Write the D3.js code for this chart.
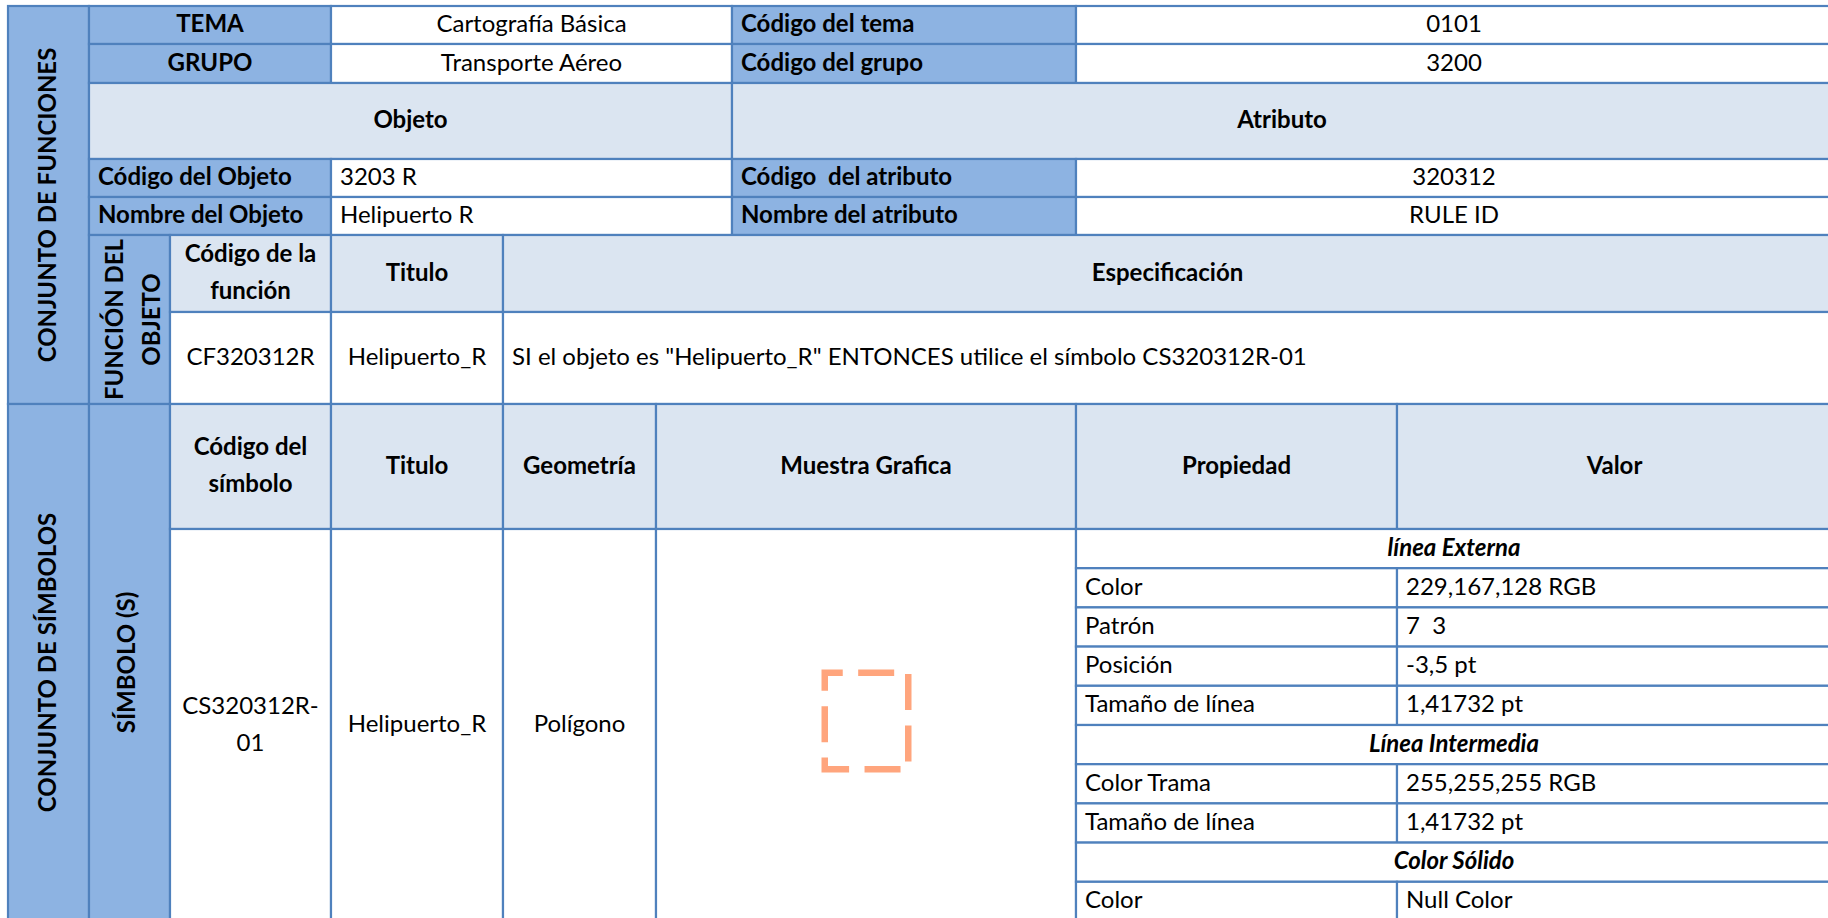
<!DOCTYPE html>
<html>
<head>
<meta charset="utf-8">
<script src="https://cdn.jsdelivr.net/npm/d3@7"></script>
<style>
html,body{margin:0;padding:0;background:#fff;}
svg{display:block;}
text{font-family:Lato,"Noto Sans",sans-serif;fill:#000;white-space:pre;}
</style>
</head>
<body>
<svg id="chart" width="1828" height="918"></svg>
<script>
// ---------------- data ----------------
const sectionTitles = ["CONJUNTO DE FUNCIONES", "CONJUNTO DE SÍMBOLOS"];
const headerLabels = ["TEMA", "GRUPO"];
const headerValues = ["Cartografía Básica", "Transporte Aéreo"];
const codeLabels = ["Código del tema", "Código del grupo"];
const codeValues = ["0101", "3200"];
const blockTitles = ["Objeto", "Atributo"];
const objectLabels = ["Código del Objeto", "Nombre del Objeto"];
const objectValues = ["3203 R", "Helipuerto R"];
const attrLabels = ["Código  del atributo", "Nombre del atributo"];
const attrValues = ["320312", "RULE ID"];
const functionSide = ["FUNCIÓN DEL", "OBJETO"];
const functionHeaders = [["Código de la", "función"], ["Titulo"], ["Especificación"]];
const functionRow = ["CF320312R", "Helipuerto_R", "SI el objeto es \"Helipuerto_R\" ENTONCES utilice el símbolo CS320312R-01"];
const symbolSide = ["SÍMBOLO (S)"];
const symbolHeaders = [["Código del", "símbolo"], ["Titulo"], ["Geometría"], ["Muestra Grafica"], ["Propiedad"], ["Valor"]];
const symbolRow = [["CS320312R-", "01"], ["Helipuerto_R"], ["Polígono"]];
const propGroups = ["línea Externa", "Línea Intermedia", "Color Sólido"];
const propNames = [
  ["Color", "Patrón", "Posición", "Tamaño de línea"],
  ["Color Trama", "Tamaño de línea"],
  ["Color"]
];
const propValues = [
  ["229,167,128 RGB", "7  3", "-3,5 pt", "1,41732 pt"],
  ["255,255,255 RGB", "1,41732 pt"],
  ["Null Color"]
];
const dashPattern = [7, 3];

// ---------------- layout / style ----------------
const DARK = "#8DB3E2", LIGHT = "#DBE5F1", WHITE = "#FFFFFF", BORDER = "#4F81BD";
const FS = 24, LINE = 37, BASE = 7, PAD = 9;
const SYMBOL_STROKE = "#FFA57D";

const colKeys = ["c0","c1","c2","c3","c4","c5","c6","c7","c8","c9"];
const colEdges = [8, 89, 170, 331, 503, 656, 732, 1076, 1397, 1832];
const x = d3.scaleOrdinal().domain(colKeys).range(colEdges);

const rowKeys = ["r0","r1","r2","r3","r4","r5","r6","r7","r8"];
const rowEdges = [6, 44, 83, 159, 197, 235, 312, 404, 529];
const y = d3.scaleOrdinal().domain(rowKeys).range(rowEdges);
// property sub-rows inside the symbol data row
const nSub = propGroups.length + d3.sum(propNames, d => d.length);
const ySub = d3.scaleLinear().domain([0, nSub]).range([529, 921]);
const yEnd = ySub(nSub);

const svg = d3.select("#chart");
const gCells = svg.append("g");
const gText = svg.append("g");

const cells = [];
function cell(c0, c1, y0, y1, fill) {
  const X0 = typeof c0 === "string" ? x(c0) : c0;
  const X1 = typeof c1 === "string" ? x(c1) : c1;
  const Y0 = typeof y0 === "string" ? y(y0) : y0;
  const Y1 = typeof y1 === "string" ? y(y1) : y1;
  cells.push({X0, X1, Y0, Y1, fill});
  return {X0, X1, Y0, Y1};
}
function label(box, lines, opts = {}) {
  if (!Array.isArray(lines)) lines = [lines];
  const cy = (box.Y0 + box.Y1) / 2 + BASE;
  const n = lines.length;
  lines.forEach((s, i) => {
    const ty = cy + (i - (n - 1) / 2) * LINE;
    const t = gText.append("text")
      .attr("y", ty)
      .attr("xml:space", "preserve")
      .style("font-size", FS + "px")
      .style("font-weight", opts.bold ? 700 : 400)
      .style("font-style", opts.italic ? "italic" : "normal")
      .text(s);
    if (opts.left) t.attr("x", box.X0 + PAD).attr("text-anchor", "start");
    else t.attr("x", (box.X0 + box.X1) / 2).attr("text-anchor", "middle");
  });
}
function vlabel(box, lines, shift) {
  const cx = (box.X0 + box.X1) / 2 + shift;
  const cy = (box.Y0 + box.Y1) / 2;
  const n = lines.length;
  lines.forEach((s, i) => {
    const bx = cx + (i - (n - 1) / 2) * LINE;
    gText.append("text")
      .attr("transform", `translate(${bx},${cy}) rotate(-90)`)
      .attr("text-anchor", "middle")
      .style("font-size", FS + "px")
      .style("font-weight", 700)
      .text(s);
  });
}

// section column
const secA = cell("c0", "c1", "r0", "r7", DARK);
const secB = cell("c0", "c1", "r7", yEnd, DARK);

// tema / grupo rows
["r0", "r1"].forEach((r, i) => {
  const rn = rowKeys[i + 1];
  label(cell("c1", "c3", r, rn, DARK), headerLabels[i], {bold: true});
  label(cell("c3", "c6", r, rn, WHITE), headerValues[i]);
  label(cell("c6", "c7", r, rn, DARK), codeLabels[i], {bold: true, left: true});
  label(cell("c7", "c9", r, rn, WHITE), codeValues[i]);
});
// objeto / atributo
label(cell("c1", "c6", "r2", "r3", LIGHT), blockTitles[0], {bold: true});
label(cell("c6", "c9", "r2", "r3", LIGHT), blockTitles[1], {bold: true});
["r3", "r4"].forEach((r, i) => {
  const rn = rowKeys[i + 4];
  label(cell("c1", "c3", r, rn, DARK), objectLabels[i], {bold: true, left: true});
  label(cell("c3", "c6", r, rn, WHITE), objectValues[i], {left: true});
  label(cell("c6", "c7", r, rn, DARK), attrLabels[i], {bold: true, left: true});
  label(cell("c7", "c9", r, rn, WHITE), attrValues[i]);
});
// función
const funSide = cell("c1", "c2", "r5", "r7", DARK);
const funCols = [["c2","c3"], ["c3","c4"], ["c4","c9"]];
funCols.forEach((c, i) => label(cell(c[0], c[1], "r5", "r6", LIGHT), functionHeaders[i], {bold: true}));
funCols.forEach((c, i) => label(cell(c[0], c[1], "r6", "r7", WHITE), functionRow[i], {left: i === 2}));

// símbolos
const symSide = cell("c1", "c2", "r7", yEnd, DARK);
const symCols = [["c2","c3"], ["c3","c4"], ["c4","c5"], ["c5","c7"], ["c7","c8"], ["c8","c9"]];
symCols.forEach((c, i) => label(cell(c[0], c[1], "r7", "r8", LIGHT), symbolHeaders[i], {bold: true}));
symbolRow.forEach((v, i) => label(cell(symCols[i][0], symCols[i][1], "r8", yEnd, WHITE), v));
const sample = cell("c5", "c7", "r8", yEnd, WHITE);

// property sub-table
let k = 0;
propGroups.forEach((g, gi) => {
  label(cell("c7", "c9", ySub(k), ySub(k + 1), WHITE), g, {bold: true, italic: true});
  k++;
  propNames[gi].forEach((p, pi) => {
    label(cell("c7", "c8", ySub(k), ySub(k + 1), WHITE), p, {left: true});
    label(cell("c8", "c9", ySub(k), ySub(k + 1), WHITE), propValues[gi][pi], {left: true});
    k++;
  });
});

gCells.selectAll("rect").data(cells).join("rect")
  .attr("x", d => d.X0).attr("y", d => d.Y0)
  .attr("width", d => d.X1 - d.X0).attr("height", d => d.Y1 - d.Y0)
  .attr("fill", d => d.fill)
  .attr("stroke", BORDER).attr("stroke-width", 2.2);

// rotated side labels
vlabel(secA, [sectionTitles[0]], 7);
vlabel(secB, [sectionTitles[1]], 7);
vlabel(funSide, functionSide, 12);
vlabel(symSide, symbolSide, 5);

// graphic sample: dashed polygon outline
const symW = 83.5, symH = 96.5;
const unit = 36 / dashPattern[0];
const scx = (sample.X0 + sample.X1) / 2 + 0.5, scy = (sample.Y0 + sample.Y1) / 2 - 4;
svg.append("rect")
  .attr("x", scx - symW / 2).attr("y", scy - symH / 2)
  .attr("width", symW).attr("height", symH)
  .attr("fill", "none")
  .attr("stroke", SYMBOL_STROKE)
  .attr("stroke-width", 6.5)
  .attr("stroke-dasharray", dashPattern.map(d => d * unit).join(" "))
  .attr("stroke-dashoffset", dashPattern[0] * unit / 2);
</script>
</body>
</html>
